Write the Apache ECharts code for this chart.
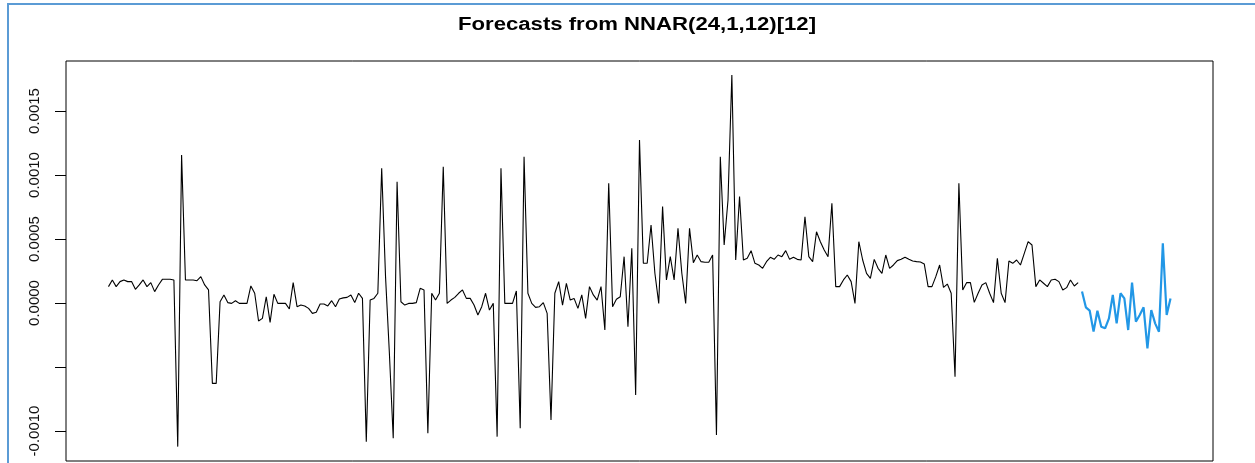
<!DOCTYPE html>
<html>
<head>
<meta charset="utf-8">
<title>Forecasts from NNAR(24,1,12)[12]</title>
<script src="https://cdn.jsdelivr.net/npm/echarts@6.0.0/dist/echarts.min.js"></script>
<style>
  html, body { margin: 0; padding: 0; background: #fff; }
  #chart { width: 1255px; height: 463px; }
</style>
</head>
<body>
<div id="chart"></div>
<script>
// 观测值 (index 0..252)
const observed = [
  0.000128, 0.000180, 0.000128, 0.000167, 0.000180, 0.000167, 0.000167, 0.000107, 0.000141, 0.000180,
  0.000128, 0.000159, 0.000089, 0.000141, 0.000185, 0.000185, 0.000185, 0.000180, -0.001122, 0.001156,
  0.000180, 0.000180, 0.000180, 0.000174, 0.000206, 0.000141, 0.000102, -0.000628, -0.000628, 0.000010,
  0.000063, 0.000003, -0.000003, 0.000018, -0.000003, -0.000003, -0.000003, 0.000133, 0.000076, -0.000141,
  -0.000120, 0.000049, -0.000151, 0.000068, -0.000003, -0.000003, -0.000003, -0.000047, 0.000159, -0.000029,
  -0.000016, -0.000023, -0.000042, -0.000081, -0.000073, -0.000008, -0.000008, -0.000023, 0.000018, -0.000029,
  0.000031, 0.000040, 0.000044, 0.000063, 0.000003, 0.000076, 0.000036, -0.001083, 0.000023, 0.000036,
  0.000076, 0.001052, 0.000206, -0.000393, -0.001057, 0.000948, 0.000010, -0.000016, -0.000003, -0.000003,
  0.000003, 0.000115, 0.000102, -0.001018, 0.000076, 0.000023, 0.000076, 0.001065, -0.000003, 0.000023,
  0.000044, 0.000076, 0.000102, 0.000036, 0.000036, -0.000016, -0.000094, -0.000029, 0.000076, -0.000055,
  -0.000003, -0.001044, 0.001052, -0.000003, -0.000003, -0.000003, 0.000094, -0.000979, 0.001143, 0.000076,
  -0.000003, -0.000034, -0.000029, 0.000003, -0.000081, -0.000914, 0.000076, 0.000167, -0.000016, 0.000154,
  0.000023, 0.000036, -0.000042, 0.000063, -0.000120, 0.000128, 0.000063, 0.000023, 0.000128, -0.000211,
  0.000935, -0.000029, 0.000029, 0.000049, 0.000362, -0.000185, 0.000427, -0.000719, 0.001273, 0.000310,
  0.000310, 0.000609, 0.000232, -0.000003, 0.000753, 0.000180, 0.000362, 0.000180, 0.000583, 0.000232,
  -0.000003, 0.000583, 0.000315, 0.000375, 0.000323, 0.000318, 0.000318, 0.000375, -0.001031, 0.001143,
  0.000453, 0.000805, 0.001781, 0.000336, 0.000831, 0.000336, 0.000349, 0.000409, 0.000310, 0.000297,
  0.000271, 0.000323, 0.000357, 0.000341, 0.000375, 0.000362, 0.000409, 0.000341, 0.000357, 0.000341,
  0.000336, 0.000674, 0.000362, 0.000323, 0.000557, 0.000479, 0.000414, 0.000362, 0.000779, 0.000128,
  0.000128, 0.000180, 0.000219, 0.000167, -0.000003, 0.000479, 0.000336, 0.000232, 0.000193, 0.000341,
  0.000271, 0.000232, 0.000375, 0.000271, 0.000297, 0.000331, 0.000341, 0.000357, 0.000341, 0.000328,
  0.000323, 0.000320, 0.000305, 0.000128, 0.000128, 0.000206, 0.000297, 0.000122, 0.000148, 0.000076,
  -0.000576, 0.000935, 0.000102, 0.000159, 0.000159, 0.000005, 0.000076, 0.000141, 0.000159, 0.000076,
  0.000003, 0.000349, 0.000076, 0.000003, 0.000328, 0.000310, 0.000336, 0.000297, 0.000388, 0.000479,
  0.000453, 0.000128, 0.000180, 0.000154, 0.000128, 0.000180, 0.000185, 0.000167, 0.000102, 0.000120,
  0.000180, 0.000133, 0.000159
];

// 预测值 (24 steps after the last observation)
const forecast = [
  0.000089, -0.000034, -0.000060, -0.000224, -0.000060, -0.000185, -0.000198, -0.000120, 0.000063, -0.000159,
  0.000076, 0.000036, -0.000211, 0.000159, -0.000146, -0.000094, -0.000034, -0.000354, -0.000055, -0.000159,
  -0.000224, 0.000466, -0.000094, 0.000036
];

const tickValues = [-0.0010, -0.0005, 0, 0.0005, 0.0010, 0.0015];
const labelValues = [-0.0010, 0, 0.0005, 0.0010, 0.0015];

const titleText = "Forecasts from NNAR(24,1,12)[12]";

const chart = echarts.init(document.getElementById("chart"));

const obsData = observed.map((v, i) => [i, v]);
const fcData = forecast.map((v, i) => [observed.length + i, v]);
const lastIdx = observed.length + forecast.length - 1;
// R pads the range by 4% on each side
const padX = lastIdx * 0.04;

const option = {
  animation: false,
  backgroundColor: "#fff",
  graphic: [
    {
      // light blue frame of the screenshot
      type: "rect",
      z: 0,
      silent: true,
      shape: { x: 8, y: 4, width: 1400, height: 600 },
      style: { fill: "none", stroke: "#5b9bd5", lineWidth: 2 },
    },
    {
      type: "text",
      x: 637,
      y: 25,
      scaleX: 1.23,
      style: {
        text: titleText,
        font: 'bold 18px "Liberation Sans", Arial, sans-serif',
        fill: "#000",
        align: "center",
        verticalAlign: "middle",
      },
    },
  ],
  grid: {
    left: 66,
    right: 42,
    top: 61,
    bottom: 2,
    show: true,
    borderColor: "#000",
    borderWidth: 1,
    backgroundColor: "transparent",
  },
  xAxis: {
    type: "value",
    min: -padX,
    max: lastIdx + padX,
    show: false,
  },
  yAxis: {
    type: "value",
    min: -0.0012344,
    max: 0.0018906,
    axisLine: { show: false, onZero: false },
    splitLine: { show: false },
    axisTick: {
      show: true,
      length: 11,
      customValues: tickValues,
      lineStyle: { color: "#000", width: 1 },
    },
    axisLabel: {
      customValues: labelValues,
      rotate: 90,
      margin: 24,
      fontSize: 15,
      fontFamily: '"Liberation Sans", Arial, sans-serif',
      color: "#111",
      formatter: (v) => v.toFixed(4),
    },
  },
  series: [
    {
      name: "observed",
      type: "line",
      data: obsData,
      symbol: "none",
      lineStyle: { color: "#000", width: 1.1 },
    },
    {
      name: "forecast",
      type: "line",
      data: fcData,
      symbol: "none",
      lineStyle: { color: "#2297E6", width: 2.2 },
    },
  ],
};

chart.setOption(option);
</script>
</body>
</html>
